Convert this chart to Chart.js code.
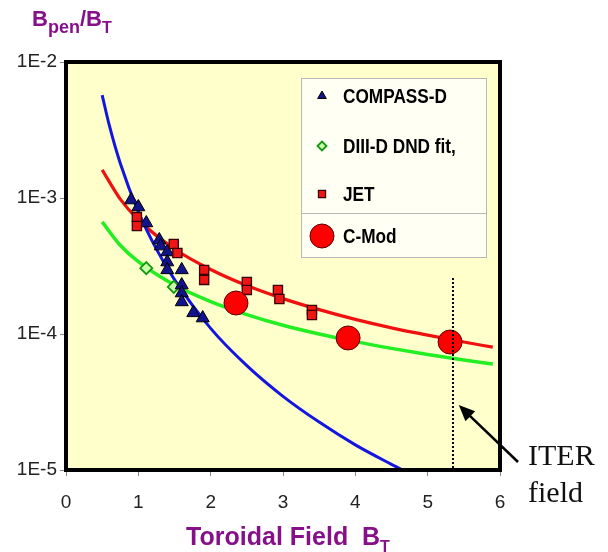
<!DOCTYPE html>
<html><head><meta charset="utf-8">
<script src="https://cdn.jsdelivr.net/npm/chart.js@4/dist/chart.umd.min.js"></script>
<style>html,body{margin:0;padding:0;background:#fff}#wrap{width:608px;height:552px}</style>
</head><body><div id="wrap"><canvas id="c" width="608" height="552"></canvas></div>
<script>
// ---- data ----
const xTicks = [0, 1, 2, 3, 4, 5, 6];
const yTicks = [1e-5, 1e-4, 1e-3, 1e-2];

// fitted curves
const redFitX   = [0.5, 0.75, 1, 1.5, 2, 2.5, 3, 3.5, 4, 4.5, 5, 5.5, 5.9];
const redFitY   = [1.61e-3, 9.82e-4, 6.92e-4, 4.22e-4, 2.98e-4, 2.27e-4, 1.82e-4, 1.51e-4, 1.28e-4, 1.11e-4, 9.8e-5, 8.73e-5, 8.0e-5];
const greenFitX = [0.5, 0.75, 1, 1.5, 2, 2.5, 3, 3.5, 4, 4.5, 5, 5.5, 5.9];
const greenFitY = [6.67e-4, 4.49e-4, 3.40e-4, 2.29e-4, 1.73e-4, 1.39e-4, 1.16e-4, 1.0e-4, 8.79e-5, 7.84e-5, 7.07e-5, 6.44e-5, 6.01e-5];
const blueFitX  = [0.5, 0.6, 0.75, 1, 1.25, 1.5, 2, 2.5, 3, 3.5, 4, 4.5, 4.75];
const blueFitY  = [5.71e-3, 3.40e-3, 1.80e-3, 7.94e-4, 4.21e-4, 2.51e-4, 1.10e-4, 5.85e-5, 3.48e-5, 2.25e-5, 1.53e-5, 1.10e-5, 9.4e-6];

// measurements
const compassX = [0.90, 1.00, 1.11, 1.29, 1.31, 1.40, 1.40, 1.40, 1.60, 1.60, 1.60, 1.60, 1.76, 1.89];
const compassY = [9.66e-4, 8.59e-4, 6.55e-4, 4.91e-4, 4.43e-4, 4.01e-4, 3.38e-4, 2.96e-4, 2.96e-4, 2.29e-4, 2.0e-4, 1.72e-4, 1.43e-4, 1.31e-4];
const diiidX   = [1.11, 1.49];
const diiidY   = [3.05e-4, 2.22e-4];
const jetX     = [0.98, 0.98, 1.49, 1.54, 1.91, 1.91, 2.50, 2.50, 2.93, 2.95, 3.40, 3.40];
const jetY     = [7.24e-4, 6.22e-4, 4.59e-4, 3.94e-4, 2.96e-4, 2.50e-4, 2.41e-4, 2.11e-4, 2.11e-4, 1.81e-4, 1.50e-4, 1.38e-4];
const cmodX    = [2.35, 3.90, 5.31];
const cmodY    = [1.69e-4, 9.35e-5, 8.73e-5];

// ITER field marker line
const iterX = [5.35, 5.35];
const iterY = [2.58e-4, 1e-5];

const seriesLabels = ['COMPASS-D', 'DIII-D DND fit,', 'JET', 'C-Mod'];

// ---- chart ----
const pts = (xs, ys) => xs.map((x, i) => ({x: x, y: ys[i]}));
const FONT = "'Liberation Sans', Arial, sans-serif";
const PURPLE = '#85108A';

const decor = {
  id: 'decor',
  beforeDraw(chart) {
    const {ctx, chartArea: a} = chart;
    ctx.save();
    ctx.fillStyle = '#ffffff';
    ctx.fillRect(0, 0, chart.width, chart.height);
    ctx.fillStyle = '#FFFFCC';
    ctx.fillRect(a.left, a.top, a.right - a.left, a.bottom - a.top);
    ctx.restore();
  },
  afterDraw(chart) {
    const {ctx, chartArea: a} = chart;
    const H = Chart.helpers;
    ctx.save();
    // frame
    ctx.strokeStyle = '#000';
    ctx.lineWidth = 4;
    ctx.strokeRect(a.left, a.top, a.right - a.left, a.bottom - a.top);

    // legend boxes
    const lx = a.left + 235, lw = 185;
    ctx.fillStyle = '#FFFFF4';
    ctx.strokeStyle = '#B8B8B8';
    ctx.lineWidth = 1;
    ctx.fillRect(lx, a.top + 16, lw, 179);
    ctx.strokeRect(lx + 0.5, a.top + 16.5, lw, 135);
    ctx.strokeRect(lx + 0.5, a.top + 151.5, lw, 44);

    const ds = chart.data.datasets;
    const entries = [
      {d: ds[3], y: a.top + 34, ty: a.top + 41},
      {d: ds[4], y: a.top + 84, ty: a.top + 91},
      {d: ds[2], y: a.top + 132, ty: a.top + 139},
      {d: ds[1], y: a.top + 174, ty: a.top + 181}
    ];
    entries.forEach((e, i) => {
      const d = e.d;
      const r = i === 3 ? 12 : (d.pointStyle === 'rectRot' ? 4.5 : 5);
      ctx.fillStyle = d.backgroundColor;
      ctx.strokeStyle = d.borderColor;
      ctx.lineWidth = d.borderWidth;
      H.drawPoint(ctx, {pointStyle: d.pointStyle, rotation: 0, borderWidth: d.borderWidth, radius: r}, lx + 21, e.y);
      ctx.save();
      ctx.fillStyle = '#000';
      ctx.font = 'bold 21px ' + FONT;
      ctx.textBaseline = 'alphabetic';
      ctx.translate(lx + 42, e.ty);
      ctx.scale(0.82, 1);
      ctx.fillText(seriesLabels[i], 0, 0);
      ctx.restore();
    });

    // y axis title B_pen / B_T
    ctx.fillStyle = PURPLE;
    ctx.textBaseline = 'alphabetic';
    let x = 32;
    const part = (t, f, y) => { ctx.font = 'bold ' + f + 'px ' + FONT; ctx.fillText(t, x, y); x += ctx.measureText(t).width; };
    part('B', 22, 26); part('pen', 18, 33); part('/B', 22, 26); part('T', 16, 33);

    // x axis title
    ctx.font = 'bold 25px ' + FONT;
    const t1 = 'Toroidal Field  B';
    const w1 = ctx.measureText(t1).width;
    ctx.font = 'bold 16px ' + FONT;
    const w2 = ctx.measureText('T').width;
    let sx = 288 - (w1 + w2) / 2;
    ctx.font = 'bold 25px ' + FONT;
    ctx.fillText(t1, sx, 545);
    ctx.font = 'bold 16px ' + FONT;
    ctx.fillText('T', sx + w1, 552);

    // ITER field annotation
    const xs = chart.scales.x, ys = chart.scales.y;
    const tipX = xs.getPixelForValue(5.43), tipY = ys.getPixelForValue(3.0e-5);
    const tailX = a.right + 18, tailY = a.bottom - 8;
    const ang = Math.atan2(tipY - tailY, tipX - tailX);
    ctx.strokeStyle = '#000';
    ctx.lineWidth = 2.5;
    ctx.beginPath();
    ctx.moveTo(tailX, tailY);
    ctx.lineTo(tipX - 10 * Math.cos(ang), tipY - 10 * Math.sin(ang));
    ctx.stroke();
    ctx.fillStyle = '#000';
    ctx.beginPath();
    ctx.moveTo(tipX, tipY);
    ctx.lineTo(tipX - 16 * Math.cos(ang) + 7 * Math.sin(ang), tipY - 16 * Math.sin(ang) - 7 * Math.cos(ang));
    ctx.lineTo(tipX - 16 * Math.cos(ang) - 7 * Math.sin(ang), tipY - 16 * Math.sin(ang) + 7 * Math.cos(ang));
    ctx.closePath();
    ctx.fill();

    ctx.fillStyle = '#111';
    ctx.font = "30px 'Liberation Serif', 'Times New Roman', serif";
    ctx.fillText('ITER', a.right + 28, a.bottom - 5);
    ctx.fillText('field', a.right + 28, a.bottom + 32);
    ctx.restore();
  }
};

new Chart(document.getElementById('c'), {
  type: 'scatter',
  data: {
    datasets: [
      {label: 'ITER field', data: pts(iterX, iterY), showLine: true, borderColor: '#000', borderWidth: 2, borderDash: [2, 2], pointRadius: 0, order: 0},
      {label: seriesLabels[3], data: pts(cmodX, cmodY), pointStyle: 'circle', pointRadius: 12, backgroundColor: '#FF0000', borderColor: '#5a0000', borderWidth: 1, order: 1},
      {label: seriesLabels[2], data: pts(jetX, jetY), pointStyle: 'rect', pointRadius: 6.5, backgroundColor: '#EE1515', borderColor: '#3a0000', borderWidth: 1.3, order: 2},
      {label: seriesLabels[0], data: pts(compassX, compassY), pointStyle: 'triangle', pointRadius: 7.5, backgroundColor: '#13138C', borderColor: '#000', borderWidth: 1, order: 3},
      {label: seriesLabels[1], data: pts(diiidX, diiidY), pointStyle: 'rectRot', pointRadius: 6, backgroundColor: '#CCFFAA', borderColor: '#139A13', borderWidth: 1.8, order: 4},
      {label: 'blue fit', data: pts(blueFitX, blueFitY), showLine: true, borderColor: '#1515E0', borderWidth: 3, pointRadius: 0, cubicInterpolationMode: 'monotone', order: 5},
      {label: 'red fit', data: pts(redFitX, redFitY), showLine: true, borderColor: '#F01010', borderWidth: 3.2, pointRadius: 0, cubicInterpolationMode: 'monotone', order: 6},
      {label: 'green fit', data: pts(greenFitX, greenFitY), showLine: true, borderColor: '#22EE22', borderWidth: 3.5, pointRadius: 0, cubicInterpolationMode: 'monotone', order: 7}
    ]
  },
  options: {
    responsive: false,
    devicePixelRatio: 1,
    animation: false,
    events: [],
    layout: {padding: {top: 62, right: 108, bottom: 0, left: 0}},
    plugins: {legend: {display: false}, tooltip: {enabled: false}},
    scales: {
      x: {
        type: 'linear', min: 0, max: 6,
        afterBuildTicks(s) { s.ticks = xTicks.map(v => ({value: v})); },
        ticks: {color: '#222', font: {size: 19, family: FONT}, padding: 15, autoSkip: false, maxRotation: 0},
        grid: {drawOnChartArea: false, drawTicks: true, tickLength: 6, color: '#888', lineWidth: 1},
        border: {display: false},
        afterFit(s) { s.height = 82; }
      },
      y: {
        type: 'logarithmic', min: 1e-5, max: 1e-2,
        afterBuildTicks(s) { s.ticks = yTicks.map(v => ({value: v})); },
        ticks: {color: '#222', font: {size: 19, family: FONT}, padding: 3, autoSkip: false,
          callback: (v) => '1E' + Math.round(Math.log10(v))},
        grid: {drawOnChartArea: false, drawTicks: true, tickLength: 6, color: '#888', lineWidth: 1},
        border: {display: false},
        afterFit(s) { s.width = 66; }
      }
    }
  },
  plugins: [decor]
});
</script>
</body></html>
